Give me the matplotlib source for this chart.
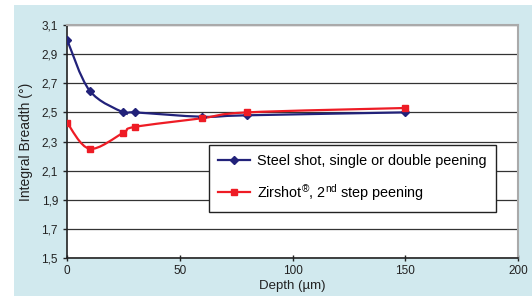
import matplotlib
matplotlib.use("Agg")
import matplotlib.pyplot as plt
import numpy as np
from matplotlib.path import Path
from matplotlib.patches import PathPatch, Rectangle
from matplotlib.ticker import FuncFormatter

plt.rcParams['font.family'] = ['Liberation Sans', 'DejaVu Sans']
plt.rcParams['mathtext.fontset'] = 'custom'
plt.rcParams['mathtext.rm'] = 'Liberation Sans'
plt.rcParams['mathtext.it'] = 'Liberation Sans'

# data
steel_depth = [0, 10, 25, 30, 60, 80, 150]
steel_width = [3.0, 2.65, 2.50, 2.50, 2.47, 2.48, 2.50]
zir_depth = [0, 10, 25, 30, 60, 80, 150]
zir_width = [2.43, 2.25, 2.36, 2.40, 2.46, 2.50, 2.53]
steel_label = 'Steel shot, single or double peening'
zir_label = 'Zirshot$^{®}$, 2$^{\\mathrm{nd}}$ step peening'

BLUE = '#22227a'
RED = '#ee1c25'


def smooth_path(xs, ys):
    # Excel-style smoothed line: cubic bezier through each point
    pts = np.column_stack([xs, ys]).astype(float)
    n = len(pts)
    verts = [pts[0]]
    codes = [Path.MOVETO]
    for i in range(n - 1):
        p0 = pts[i - 1] if i > 0 else pts[i]
        p1, p2 = pts[i], pts[i + 1]
        p3 = pts[i + 2] if i + 2 < n else pts[i + 1]
        c1 = p1 + (p2 - p0) / 6.0
        c2 = p2 - (p3 - p1) / 6.0
        verts += [c1, c2, p2]
        codes += [Path.CURVE4] * 3
    return Path(verts, codes)


fig = plt.figure(figsize=(5.32, 2.96), dpi=100)
fig.patches.append(Rectangle((14 / 532, 0), 1, 1 - 5 / 296, transform=fig.transFigure,
                             facecolor='#d1e9ee', edgecolor='none', zorder=-10))
ax = fig.add_axes([67 / 532, 38 / 296, 451 / 532, 233 / 296])
ax.set_facecolor('white')

ax.set_xlim(0, 200)
ax.set_ylim(1.5, 3.1)
ax.set_xticks([0, 50, 100, 150, 200])
ax.set_yticks(np.arange(1.5, 3.11, 0.2))
ax.yaxis.set_major_formatter(FuncFormatter(lambda v, p: f'{v:.1f}'.replace('.', ',')))
ax.grid(axis='y', color='#333333', linewidth=0.9)
ax.set_axisbelow(True)
ax.tick_params(axis='both', labelsize=8.5, colors='#222222', length=4, width=1)
ax.tick_params(axis='y', length=3)
ax.tick_params(axis='x', direction='inout', pad=3)

for side in ['left', 'bottom']:
    ax.spines[side].set_color('#222222')
    ax.spines[side].set_linewidth(1.2)
for side in ['top', 'right']:
    ax.spines[side].set_color('#aaaaaa')
    ax.spines[side].set_linewidth(1.5)

ax.add_patch(PathPatch(smooth_path(steel_depth, steel_width), facecolor='none',
                       edgecolor=BLUE, linewidth=1.6, zorder=3))
ax.add_patch(PathPatch(smooth_path(zir_depth, zir_width), facecolor='none',
                       edgecolor=RED, linewidth=1.6, zorder=3))
ax.plot(steel_depth, steel_width, linestyle='none', marker='D', markersize=4,
        color=BLUE, zorder=4)
ax.plot(zir_depth, zir_width, linestyle='none', marker='s', markersize=5,
        color=RED, zorder=4)

# legend handles
h1, = ax.plot([], [], color=BLUE, marker='D', markersize=4, linewidth=1.6, label=steel_label)
h2, = ax.plot([], [], color=RED, marker='s', markersize=5, linewidth=1.6, label=zir_label)
leg = ax.legend(handles=[h1, h2], loc='upper left', bbox_to_anchor=(0.315, 0.487),
                borderaxespad=0, fontsize=10.4, frameon=True, fancybox=False,
                framealpha=1, edgecolor='#222222', handlelength=2.2,
                labelspacing=0.95, borderpad=0.65, handletextpad=0.5)
leg.get_frame().set_linewidth(1.0)

ax.set_xlabel('Depth (µm)', fontsize=9.5, color='#222222', labelpad=2)
ax.set_ylabel('Integral Breadth (°)', fontsize=10, color='#222222', labelpad=6)

fig.savefig('out.png', dpi=100)
